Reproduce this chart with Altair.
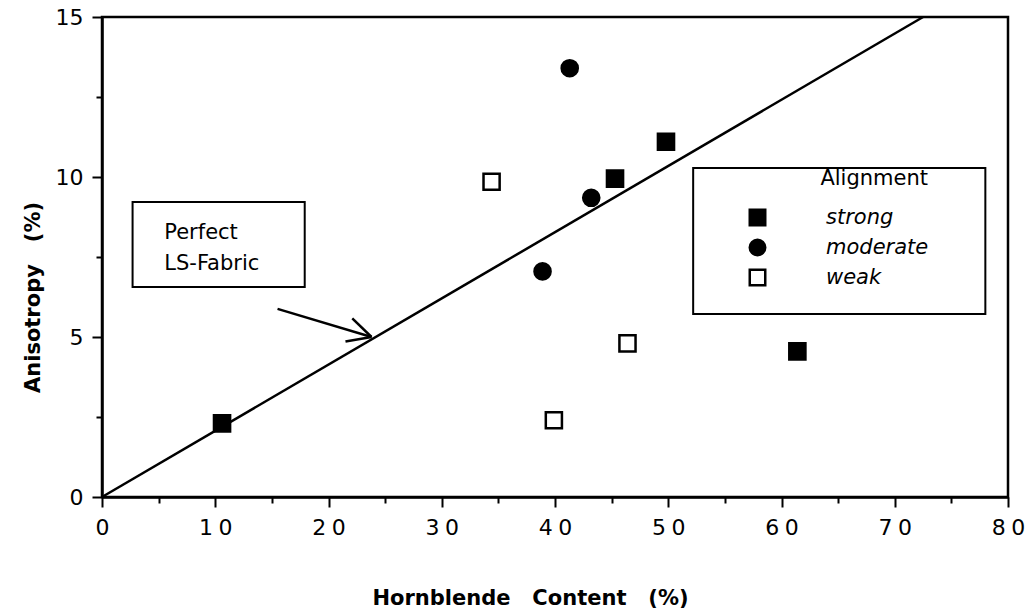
import altair as alt
import pandas as pd

# ---- data ----
categories = ["strong", "moderate", "weak"]
strong_x = [10.6, 45.3, 49.8, 61.4]
strong_y = [2.3, 9.95, 11.1, 4.55]
moderate_x = [41.3, 43.2, 38.9]
moderate_y = [13.4, 9.35, 7.05]
weak_x = [34.4, 46.4, 39.9]
weak_y = [9.85, 4.8, 2.4]

# "Perfect LS-Fabric" reference line
ls_line_x = [0, 72.5]
ls_line_y = [0, 15]

# arrow pointing at the line (shaft, two barbs)
arrow_x = [15.5, 23.8, 23.8]
arrow_y = [5.88, 5.0, 5.0]
arrow_x2 = [23.8, 22.1, 21.5]
arrow_y2 = [5.0, 5.58, 4.86]

# annotation boxes (label box and legend frame)
box_x = [2.7, 52.2]
box_x2 = [17.9, 78.0]
box_y = [9.22, 10.28]
box_y2 = [6.56, 5.72]

label_text = ["Perfect", "LS-Fabric"]
label_x = [5.5, 5.5]
label_y = [8.25, 7.28]

x_ticks = [0, 5, 10, 15, 20, 25, 30, 35, 40, 45, 50, 55, 60, 65, 70, 75, 80]
y_ticks = [0, 2.5, 5, 7.5, 10, 12.5, 15]

FONT = "DejaVu Sans"
NB = "\u00a0"

pts = pd.DataFrame({
    "x": strong_x + moderate_x + weak_x,
    "y": strong_y + moderate_y + weak_y,
    "Alignment": ["strong"] * len(strong_x) + ["moderate"] * len(moderate_x) + ["weak"] * len(weak_x),
})
line_df = pd.DataFrame({"x": ls_line_x, "y": ls_line_y})
arrow_df = pd.DataFrame({"x": arrow_x, "y": arrow_y, "x2": arrow_x2, "y2": arrow_y2})
box_df = pd.DataFrame({"x": box_x, "y": box_y, "x2": box_x2, "y2": box_y2})
text_df = pd.DataFrame({"x": label_x, "y": label_y, "t": label_text})

xscale = alt.Scale(domain=[0, 80], nice=False, zero=False)
yscale = alt.Scale(domain=[0, 15], nice=False, zero=False)

x_axis = alt.Axis(
    values=x_ticks,
    title=f"Hornblende{NB}{NB} Content{NB}{NB} (%)",
    labelExpr="datum.value % 10 === 0 ? (datum.value === 0 ? '0' : floor(datum.value / 10) + '\u2005' + '0') : ''",
    tickSize={"condition": {"test": "datum.value % 10 === 0", "value": 10}, "value": 6},
    labelPadding=10,
    labelFlush=False,
    titleX=428,
    titleY=101,
    titleAlign="center",
    titleBaseline="middle",
)
y_axis = alt.Axis(
    values=y_ticks,
    title=f"Anisotropy{NB}{NB} (%)",
    labelExpr="datum.value % 5 === 0 ? datum.label : ''",
    tickSize={"condition": {"test": "datum.value % 5 === 0", "value": 10}, "value": 6},
    labelPadding=9,
    labelFlush=False,
    titleX=-69,
    titleY=280,
    titleAlign="center",
    titleBaseline="middle",
)

X = alt.X("x:Q", scale=xscale, axis=x_axis)
Y = alt.Y("y:Q", scale=yscale, axis=y_axis)

legend = alt.Legend(
    title="Alignment",
    orient="none",
    legendX=645,
    legendY=151,
    padding=0,
    titleFont=FONT,
    titleFontSize=21,
    titleFontWeight="normal",
    titleColor="black",
    titleAnchor="end",
    titlePadding=18,
    labelFont=FONT,
    labelFontSize=21,
    labelFontStyle="italic",
    labelColor="black",
    labelOffset=58,
    rowPadding=3,
    symbolSize=240,
    symbolStrokeColor="black",
    symbolStrokeWidth=2.5,
)

line = alt.Chart(line_df).mark_line(color="black", strokeWidth=2.5).encode(x=X, y=Y)

arrow = alt.Chart(arrow_df).mark_rule(color="black", strokeWidth=2.5).encode(
    x=X, y=Y, x2="x2:Q", y2="y2:Q"
)

boxes = alt.Chart(box_df).mark_rect(fill="white", stroke="black", strokeWidth=2).encode(
    x=X, y=Y, x2="x2:Q", y2="y2:Q"
)

texts = alt.Chart(text_df).mark_text(
    align="left", baseline="middle", font=FONT, fontSize=21, color="black"
).encode(x=X, y=Y, text="t:N")

points = alt.Chart(pts).mark_point(
    filled=True, size=260, strokeWidth=2.5, opacity=1
).encode(
    x=X,
    y=Y,
    shape=alt.Shape("Alignment:N", scale=alt.Scale(domain=categories, range=["square", "circle", "square"]), legend=legend),
    fill=alt.Fill("Alignment:N", scale=alt.Scale(domain=categories, range=["black", "black", "white"]), legend=legend),
    stroke=alt.Stroke("Alignment:N", scale=alt.Scale(domain=categories, range=["black", "black", "black"]), legend=legend),
)

chart = (
    alt.layer(line, arrow, boxes, texts, points)
    .properties(
        width=906,
        height=480,
        autosize="none",
        padding={"left": 102, "top": 17, "right": 27, "bottom": 116},
        background="white",
    )
    .configure_view(stroke="black", strokeWidth=2.5)
    .configure_axis(
        grid=False,
        domainColor="black",
        domainWidth=2.5,
        tickColor="black",
        tickWidth=2,
        labelColor="black",
        labelFont=FONT,
        labelFontSize=22,
        titleColor="black",
        titleFont=FONT,
        titleFontSize=21,
        titleFontWeight="bold",
    )
)

chart.save("out.html", embed_options={"renderer": "svg", "actions": False})
